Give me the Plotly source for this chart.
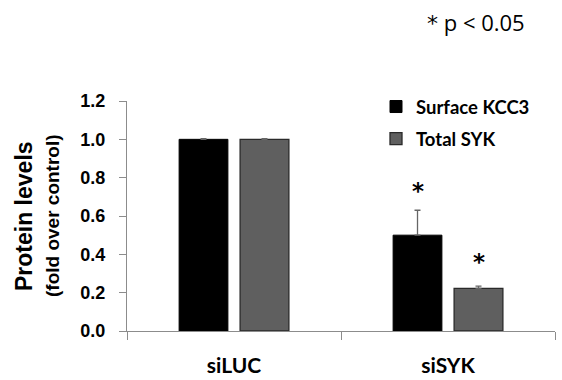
import plotly.graph_objects as go

categories = ["siLUC", "siSYK"]
kcc3_values = [1.0, 0.50]
kcc3_errors = [0.003, 0.13]
syk_values = [1.0, 0.222]
syk_errors = [0.003, 0.012]
y_ticks = [0.0, 0.2, 0.4, 0.6, 0.8, 1.0, 1.2]
y_tick_labels = ["0.0", "0.2", "0.4", "0.6", "0.8", "1.0", "1.2"]
significant = [False, True]

fig = go.Figure()
fig.add_trace(go.Bar(
    name="Surface KCC3", x=categories, y=kcc3_values, legendgroup="a",
    marker=dict(color="#000000", line=dict(color="#000000", width=1)),
    error_y=dict(type="data", array=kcc3_errors, arrayminus=[0, 0],
                 color="#666666", thickness=1.3, width=3),
))
fig.add_trace(go.Bar(
    name="Total SYK", x=categories, y=syk_values, legendgroup="b",
    marker=dict(color="#5f5f5f", line=dict(color="#2a2a2a", width=1.3)),
    error_y=dict(type="data", array=syk_errors, arrayminus=[0, 0],
                 color="#666666", thickness=1.3, width=3),
))

star_font = dict(family="DejaVu Sans", size=23, color="black", weight="bold")
annotations = []
for i, cat in enumerate(categories):
    if significant[i]:
        annotations.append(dict(x=cat, y=kcc3_values[i] + kcc3_errors[i], xref="x", yref="y",
                                text="*", showarrow=False, xshift=-30.5, yshift=4, yanchor="bottom",
                                font=star_font))
        annotations.append(dict(x=cat, y=syk_values[i] + syk_errors[i], xref="x", yref="y",
                                text="*", showarrow=False, xshift=30.5, yshift=9, yanchor="bottom",
                                font=star_font))

annotations.append(dict(x=(425 - 127) / 428, y=(331 - 22) / 230, xref="paper", yref="paper",
                        text="<span style='font-family:DejaVu Sans'>*</span> p &lt; 0.05",
                        showarrow=False, xanchor="left", yanchor="middle",
                        font=dict(family="Open Sans", size=22, color="black")))

annotations.append(dict(x=-(127 - 24) / 428, y=0.5, xref="paper", yref="paper",
                        text="<b>Protein levels</b>", textangle=-90, showarrow=False,
                        xanchor="center", yanchor="middle",
                        font=dict(family="Liberation Sans", size=23, color="black")))
annotations.append(dict(x=-(127 - 52) / 428, y=0.5, xref="paper", yref="paper",
                        text="<b>(fold over control)</b>", textangle=-90, showarrow=False,
                        xanchor="center", yanchor="middle",
                        font=dict(family="Liberation Sans", size=19, color="black")))

fig.update_layout(
    width=562, height=380,
    margin=dict(l=127, r=7, t=101, b=49, autoexpand=False),
    paper_bgcolor="white", plot_bgcolor="white",
    barmode="group", bargap=0.43, bargroupgap=0.2,
    showlegend=True,
    legend=dict(x=(376 - 127) / 428, y=(331 - 88) / 230, xanchor="left", yanchor="top",
                bgcolor="rgba(0,0,0,0)", tracegroupgap=5,
                font=dict(family="Lato", size=18.5, color="black", weight="bold"),
                itemwidth=30),
    annotations=annotations,
)
fig.update_xaxes(
    automargin=False,
    showline=True, linecolor="#8c8c8c", linewidth=1.2,
    ticks="outside", tickson="boundaries", ticklen=8, tickcolor="#8c8c8c",
    tickfont=dict(family="Lato", size=21, color="black", weight="bold"),
    ticklabelstandoff=16, showgrid=False, zeroline=False,
)
fig.update_yaxes(
    automargin=False,
    range=[0, 1.2], tickvals=y_ticks, ticktext=y_tick_labels,
    showline=True, linecolor="#8c8c8c", linewidth=1.2,
    ticks="outside", ticklen=7, tickcolor="#8c8c8c",
    tickfont=dict(family="Liberation Sans", size=18, color="black", weight="bold"),
    ticklabelstandoff=10, showgrid=False, zeroline=False,
)
fig.write_html("out.html", config={"displayModeBar": False},
               post_script="document.body.style.margin='0px';")
